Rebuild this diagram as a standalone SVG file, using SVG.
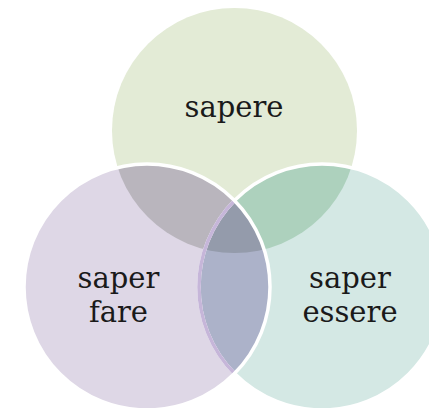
<svg xmlns="http://www.w3.org/2000/svg" width="429" height="408" viewBox="0 0 429 408">
<style>
.lbl{font-family:"DejaVu Serif","Liberation Serif",serif;font-size:29px;fill:#1a1a1a;text-anchor:middle}
.ws{fill:none;stroke:#ffffff;stroke-width:3.5}
</style>
<defs>
<clipPath id="cG"><circle cx="234.5" cy="130.5" r="122.5"/></clipPath>
<clipPath id="cR"><circle cx="322" cy="287" r="123"/></clipPath>
<clipPath id="cL"><circle cx="147" cy="287" r="123"/></clipPath>
</defs>
<rect width="429" height="408" fill="#ffffff"/>
<g id="sapere">
<circle cx="234.5" cy="130.5" r="122.5" fill="#E3EBD6"/>
</g>
<g id="saper-essere">
<circle cx="322" cy="287" r="123" fill="#D4E8E4"/>
</g>
<g id="saper-fare">
<circle cx="147" cy="287" r="123" fill="#DED7E6"/>
</g>
<g id="overlaps">
<circle cx="322" cy="287" r="123" fill="#ADD1BD" clip-path="url(#cG)"/>
<circle cx="147" cy="287" r="123" fill="#B9B5BD" clip-path="url(#cG)"/>
<circle cx="147" cy="287" r="123" fill="#ACB2C9" clip-path="url(#cR)"/>
<g clip-path="url(#cG)"><circle cx="147" cy="287" r="123" fill="#949BAB" clip-path="url(#cR)"/></g>
</g>
<g id="outlines">
<circle class="ws" cx="322" cy="287" r="123"/>
<circle cx="322" cy="287" r="123" fill="none" stroke="#C6B6D9" stroke-width="3.5" clip-path="url(#cL)"/>
<circle class="ws" cx="147" cy="287" r="123"/>
</g>
<g id="labels">
<text class="lbl" x="234" y="117">sapere</text>
<text class="lbl" x="118.5" y="288">saper</text>
<text class="lbl" x="118.5" y="322">fare</text>
<text class="lbl" x="350" y="288">saper</text>
<text class="lbl" x="350" y="322">essere</text>
</g>
</svg>
